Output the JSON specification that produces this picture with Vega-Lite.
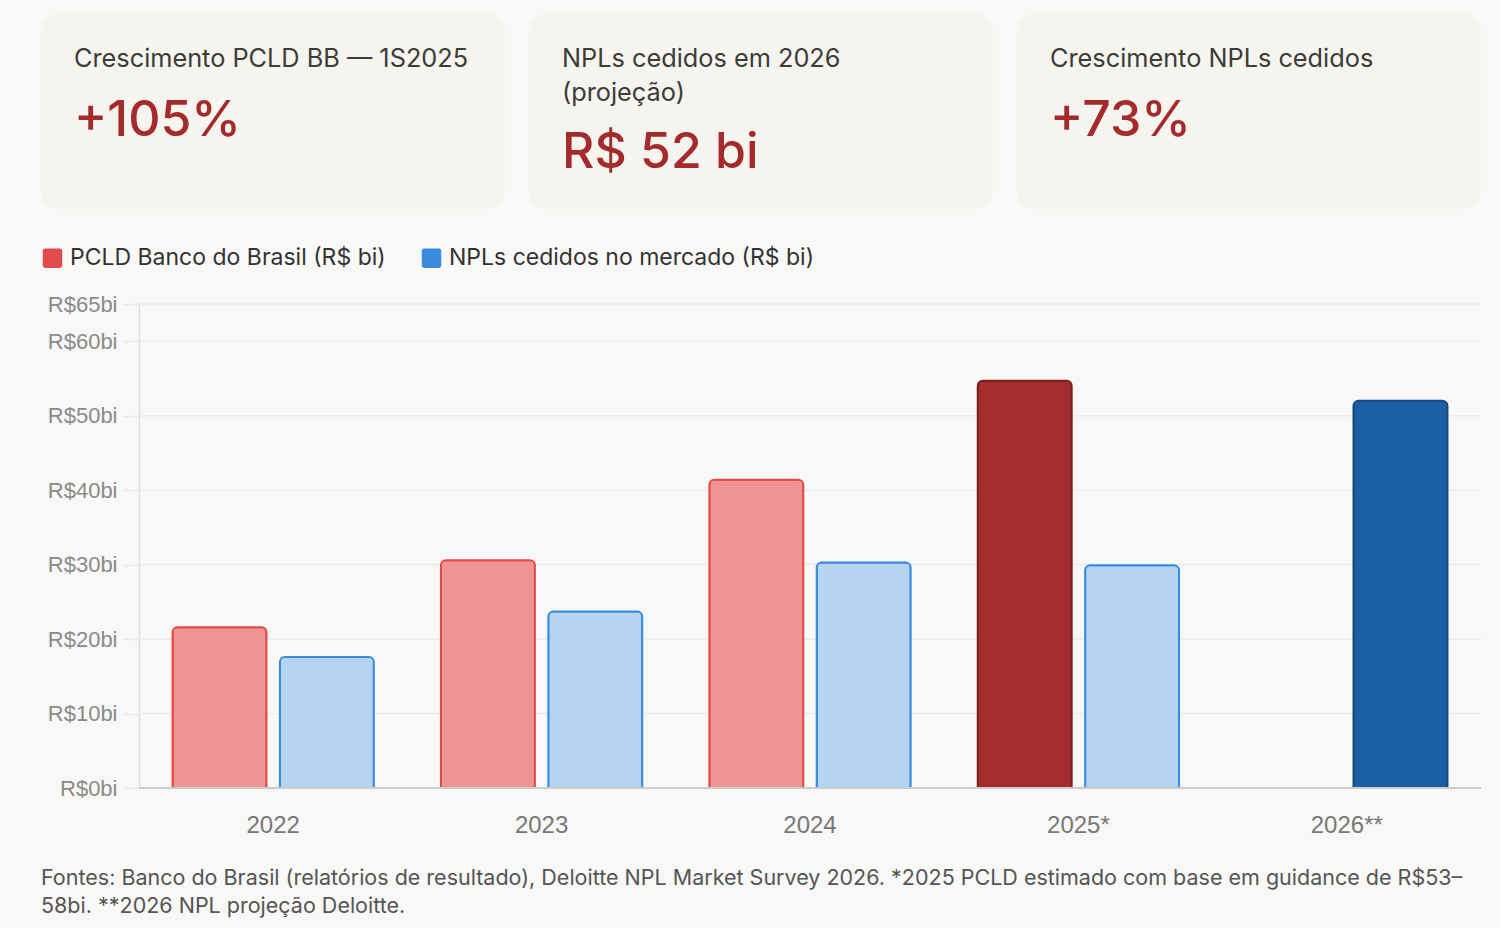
{
  "$schema": "https://vega.github.io/schema/vega-lite/v6.json",
  "background": "#F8F8F6",
  "padding": {"left": 41, "top": 14, "right": 19, "bottom": 10},
  "config": {"view": {"stroke": null}, "font": "Inter"},
  "spacing": 84,
  "vconcat": [
    {
      "spacing": 24,
      "hconcat": [
        {
          "width": 464, "height": 195,
          "view": {"fill": "#F5F4EE", "cornerRadius": 16, "stroke": null},
          "data": {"values": [{"titulo": "Crescimento PCLD BB — 1S2025", "valor": "+105%"}]},
          "layer": [
            {"mark": {"type": "text", "align": "left", "baseline": "alphabetic", "font": "Inter", "fontSize": 25.3, "color": "#3C3C38"},
             "encoding": {"text": {"field": "titulo"}, "x": {"value": 33}, "y": {"value": 53}}},
            {"mark": {"type": "text", "align": "left", "baseline": "alphabetic", "font": "Inter", "fontSize": 50, "fontWeight": 500, "color": "#A42A2C"},
             "encoding": {"text": {"field": "valor"}, "x": {"value": 33}, "y": {"value": 122}}}
          ]
        },
        {
          "width": 464, "height": 195,
          "view": {"fill": "#F5F4EE", "cornerRadius": 16, "stroke": null},
          "data": {"values": [{"titulo": "NPLs cedidos em 2026\n(projeção)", "valor": "R$ 52 bi"}]},
          "layer": [
            {"mark": {"type": "text", "align": "left", "baseline": "alphabetic", "font": "Inter", "fontSize": 25.3, "color": "#3C3C38", "lineBreak": "\n", "lineHeight": 34},
             "encoding": {"text": {"field": "titulo"}, "x": {"value": 33}, "y": {"value": 53}}},
            {"mark": {"type": "text", "align": "left", "baseline": "alphabetic", "font": "Inter", "fontSize": 50, "fontWeight": 500, "color": "#A42A2C"},
             "encoding": {"text": {"field": "valor"}, "x": {"value": 33}, "y": {"value": 154}}}
          ]
        },
        {
          "width": 464, "height": 195,
          "view": {"fill": "#F5F4EE", "cornerRadius": 16, "stroke": null},
          "data": {"values": [{"titulo": "Crescimento NPLs cedidos", "valor": "+73%"}]},
          "layer": [
            {"mark": {"type": "text", "align": "left", "baseline": "alphabetic", "font": "Inter", "fontSize": 25.3, "color": "#3C3C38"},
             "encoding": {"text": {"field": "titulo"}, "x": {"value": 33}, "y": {"value": 53}}},
            {"mark": {"type": "text", "align": "left", "baseline": "alphabetic", "font": "Inter", "fontSize": 50, "fontWeight": 500, "color": "#A42A2C"},
             "encoding": {"text": {"field": "valor"}, "x": {"value": 33}, "y": {"value": 122}}}
          ]
        }
      ]
    },
    {
      "width": 1440, "height": 484,
      "title": {
        "text": ["Fontes: Banco do Brasil (relatórios de resultado), Deloitte NPL Market Survey 2026. *2025 PCLD estimado com base em guidance de R$53–", "58bi. **2026 NPL projeção Deloitte."],
        "orient": "bottom", "anchor": "start", "frame": "bounds",
        "font": "Inter", "fontSize": 21.5, "fontWeight": "normal", "color": "#555555",
        "lineHeight": 28, "offset": 31
      },
      "data": {"values": [
        {"ano": "2022", "serie": "PCLD Banco do Brasil (R$ bi)", "valor": 21.6, "status": "realizado"},
        {"ano": "2022", "serie": "NPLs cedidos no mercado (R$ bi)", "valor": 17.6, "status": "realizado"},
        {"ano": "2023", "serie": "PCLD Banco do Brasil (R$ bi)", "valor": 30.6, "status": "realizado"},
        {"ano": "2023", "serie": "NPLs cedidos no mercado (R$ bi)", "valor": 23.7, "status": "realizado"},
        {"ano": "2024", "serie": "PCLD Banco do Brasil (R$ bi)", "valor": 41.4, "status": "realizado"},
        {"ano": "2024", "serie": "NPLs cedidos no mercado (R$ bi)", "valor": 30.3, "status": "realizado"},
        {"ano": "2025*", "serie": "PCLD Banco do Brasil (R$ bi)", "valor": 54.7, "status": "estimado"},
        {"ano": "2025*", "serie": "NPLs cedidos no mercado (R$ bi)", "valor": 29.9, "status": "realizado"},
        {"ano": "2026**", "serie": "NPLs cedidos no mercado (R$ bi)", "valor": 52.0, "status": "projeção"}
      ]},
      "layer": [
        {
          "data": {"values": [{"grade": 10}, {"grade": 20}, {"grade": 30}, {"grade": 40}, {"grade": 50}, {"grade": 60}, {"grade": 65}]},
          "mark": {"type": "rule", "color": "#EBEBEB", "strokeWidth": 1.5},
          "encoding": {
            "y": {"field": "grade", "type": "quantitative", "scale": {"domain": [0, 65], "nice": false},
                  "axis": {"title": null, "values": [0, 10, 20, 30, 40, 50, 60, 65], "labelExpr": "'R$' + datum.value + 'bi'", "labelFont": "Liberation Sans", "labelFontSize": 22, "labelColor": "#8A8A8A", "labelPadding": 6, "tickSize": 16, "tickColor": "#EBEBEB", "tickWidth": 1.5, "grid": false, "domainColor": "#DDDDDD", "domainWidth": 1.5, "offset": -98}},
            "x": {"datum": "2022", "bandPosition": 0,
                  "scale": {"domain": ["2022", "2023", "2024", "2025*", "2026**"], "paddingInner": 0, "paddingOuter": 0.18256, "align": 1},
                  "axis": {"title": null, "labelAngle": 0, "labelFont": "Liberation Sans", "labelFontSize": 24, "labelColor": "#777777", "labelPadding": 25, "ticks": false, "grid": false, "domain": false}},
            "x2": {"datum": "2026**", "bandPosition": 1}
          }
        },
        {
          "transform": [{"filter": "datum.status === 'realizado'"}],
          "mark": {"type": "bar", "cornerRadiusTopLeft": 5, "cornerRadiusTopRight": 5, "strokeWidth": 2},
          "encoding": {
            "x": {"field": "ano", "type": "nominal", "sort": ["2022", "2023", "2024", "2025*", "2026**"]},
            "xOffset": {"field": "serie", "type": "nominal",
              "scale": {"domain": ["PCLD Banco do Brasil (R$ bi)", "NPLs cedidos no mercado (R$ bi)"], "paddingInner": 0.125, "paddingOuter": 0.3125}},
            "y": {"field": "valor", "type": "quantitative"},
            "fill": {
              "field": "serie", "type": "nominal",
              "scale": {"domain": ["PCLD Banco do Brasil (R$ bi)", "NPLs cedidos no mercado (R$ bi)"], "range": ["#E24B4B", "#3A8BE0"]},
              "condition": [
                {"test": "datum.serie === 'PCLD Banco do Brasil (R$ bi)'", "value": "#F09494"},
                {"test": "true", "value": "#B5D4F2"}
              ],
              "legend": {
                "orient": "none", "legendX": 0, "legendY": 232.5, "direction": "horizontal", "title": null,
                "symbolType": "M -0.75 -1 L 0.75 -1 Q 1 -1 1 -0.75 L 1 0.75 Q 1 1 0.75 1 L -0.75 1 Q -1 1 -1 0.75 L -1 -0.75 Q -1 -1 -0.75 -1 Z",
                "symbolSize": 380, "symbolStrokeWidth": 0, "symbolOpacity": 1,
                "labelFont": "Inter", "labelFontSize": 23, "labelColor": "#333333", "labelOffset": 6, "labelLimit": 600,
                "columnPadding": 34, "padding": 0
              }
            },
            "stroke": {
              "field": "serie", "type": "nominal",
              "scale": {"domain": ["PCLD Banco do Brasil (R$ bi)", "NPLs cedidos no mercado (R$ bi)"], "range": ["#E24B4B", "#3A8BE0"]},
              "legend": null
            }
          }
        },
        {
          "transform": [{"filter": "datum.status !== 'realizado'"}],
          "mark": {"type": "bar", "cornerRadiusTopLeft": 5, "cornerRadiusTopRight": 5, "strokeWidth": 2},
          "encoding": {
            "x": {"field": "ano", "type": "nominal", "sort": ["2022", "2023", "2024", "2025*", "2026**"]},
            "xOffset": {"field": "serie", "type": "nominal"},
            "y": {"field": "valor", "type": "quantitative"},
            "fill": {
              "field": "serie", "type": "nominal",
              "condition": [
                {"test": "datum.serie === 'PCLD Banco do Brasil (R$ bi)'", "value": "#A52C2E"},
                {"test": "true", "value": "#1A5FA4"}
              ]
            },
            "stroke": {
              "condition": {"test": "datum.serie === 'PCLD Banco do Brasil (R$ bi)'", "value": "#7C1F20"},
              "value": "#164A85"
            }
          }
        },
        {
          "data": {"values": [{"grade": 0}]},
          "mark": {"type": "rule", "color": "#CCCCCC", "strokeWidth": 2},
          "encoding": {
            "y": {"field": "grade", "type": "quantitative"},
            "x": {"datum": "2022", "bandPosition": 0},
            "x2": {"datum": "2026**", "bandPosition": 1}
          }
        }
      ]
    }
  ]
}
